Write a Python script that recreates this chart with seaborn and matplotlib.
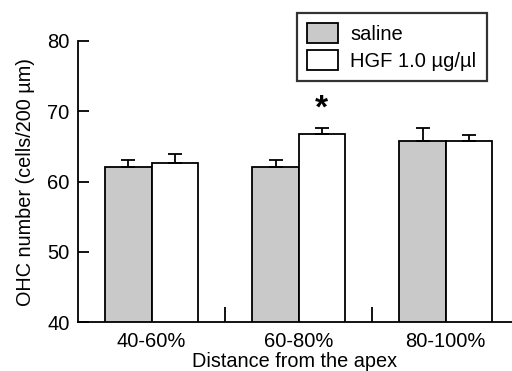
import matplotlib
matplotlib.use("Agg")
import matplotlib.pyplot as plt
import seaborn as sns
import pandas as pd
import numpy as np

categories = ["40-60%", "60-80%", "80-100%"]
groups = ["saline", "HGF 1.0 \u00b5g/\u00b5l"]
saline_mean = [62.1, 62.1, 65.8]
saline_sem = [0.9, 0.9, 1.8]
hgf_mean = [62.6, 66.7, 65.8]
hgf_sem = [1.3, 0.9, 0.8]
colors = ["#c9c9c9", "#ffffff"]

sns.set_style("ticks")
plt.rcParams["font.family"] = ["Liberation Sans", "DejaVu Sans"]
plt.rcParams["text.color"] = "black"
plt.rcParams["axes.labelcolor"] = "black"
plt.rcParams["xtick.color"] = "black"
plt.rcParams["ytick.color"] = "black"
plt.rcParams["axes.edgecolor"] = "black"

df = pd.DataFrame({
    "cat": categories * 2,
    "grp": [groups[0]] * 3 + [groups[1]] * 3,
    "val": saline_mean + hgf_mean,
    "err": saline_sem + hgf_sem,
})

fig = plt.figure(figsize=(5.12, 3.71), dpi=100)
ax = fig.add_axes([78 / 512, 1 - 322 / 371, (512 - 78) / 512, (322 - 41) / 371])

sns.barplot(data=df, x="cat", y="val", hue="grp", order=categories,
            hue_order=groups, palette=colors, width=0.63, errorbar=None,
            edgecolor="black", linewidth=1.3, ax=ax, saturation=1)

# error bars (upper only)
errs = saline_sem + hgf_sem
bars = [p for p in ax.patches if p.get_height() > 0][:6]
for p, e in zip(bars, errs):
    xc = p.get_x() + p.get_width() / 2
    ax.errorbar(xc, p.get_height(), yerr=[[0], [e]], fmt="none",
                ecolor="black", elinewidth=1.3, capsize=5, capthick=1.3, zorder=3)

# significance asterisk above HGF 60-80%
p = bars[4]
ax.text(p.get_x() + p.get_width() / 2, hgf_mean[1] + hgf_sem[1] + 0.5, "*",
        ha="center", va="bottom", fontsize=24, fontweight="bold")

ax.set_ylim(40, 80)
ax.set_xlim(-0.5, 2.45)
ax.set_yticks([40, 50, 60, 70, 80])
ax.tick_params(axis="y", direction="in", length=8, width=1.3, labelsize=14.5, pad=6)
ax.tick_params(axis="x", length=0, labelsize=14.5, pad=7)
ax.set_xticks([0.5, 1.5], minor=True)
ax.tick_params(axis="x", which="minor", direction="in", length=11, width=1.3)
ax.set_ylabel("OHC number (cells/200 \u00b5m)", fontsize=14.3, labelpad=9)
ax.set_xlabel("Distance from the apex", fontsize=14.3, labelpad=1)
for s in ["top", "right"]:
    ax.spines[s].set_visible(False)
for s in ["left", "bottom"]:
    ax.spines[s].set_linewidth(1.3)

leg = ax.legend(loc="upper left", bbox_to_anchor=((297 - 78) / 434, 1 + 28 / 281),
                frameon=True, fancybox=False, edgecolor="black", fontsize=14.5,
                handlelength=1.55, handleheight=1.15, borderpad=0.5, labelspacing=0.3,
                handletextpad=0.6, borderaxespad=0)
leg.get_frame().set_linewidth(1.6)

fig.savefig("out.png", dpi=100)
